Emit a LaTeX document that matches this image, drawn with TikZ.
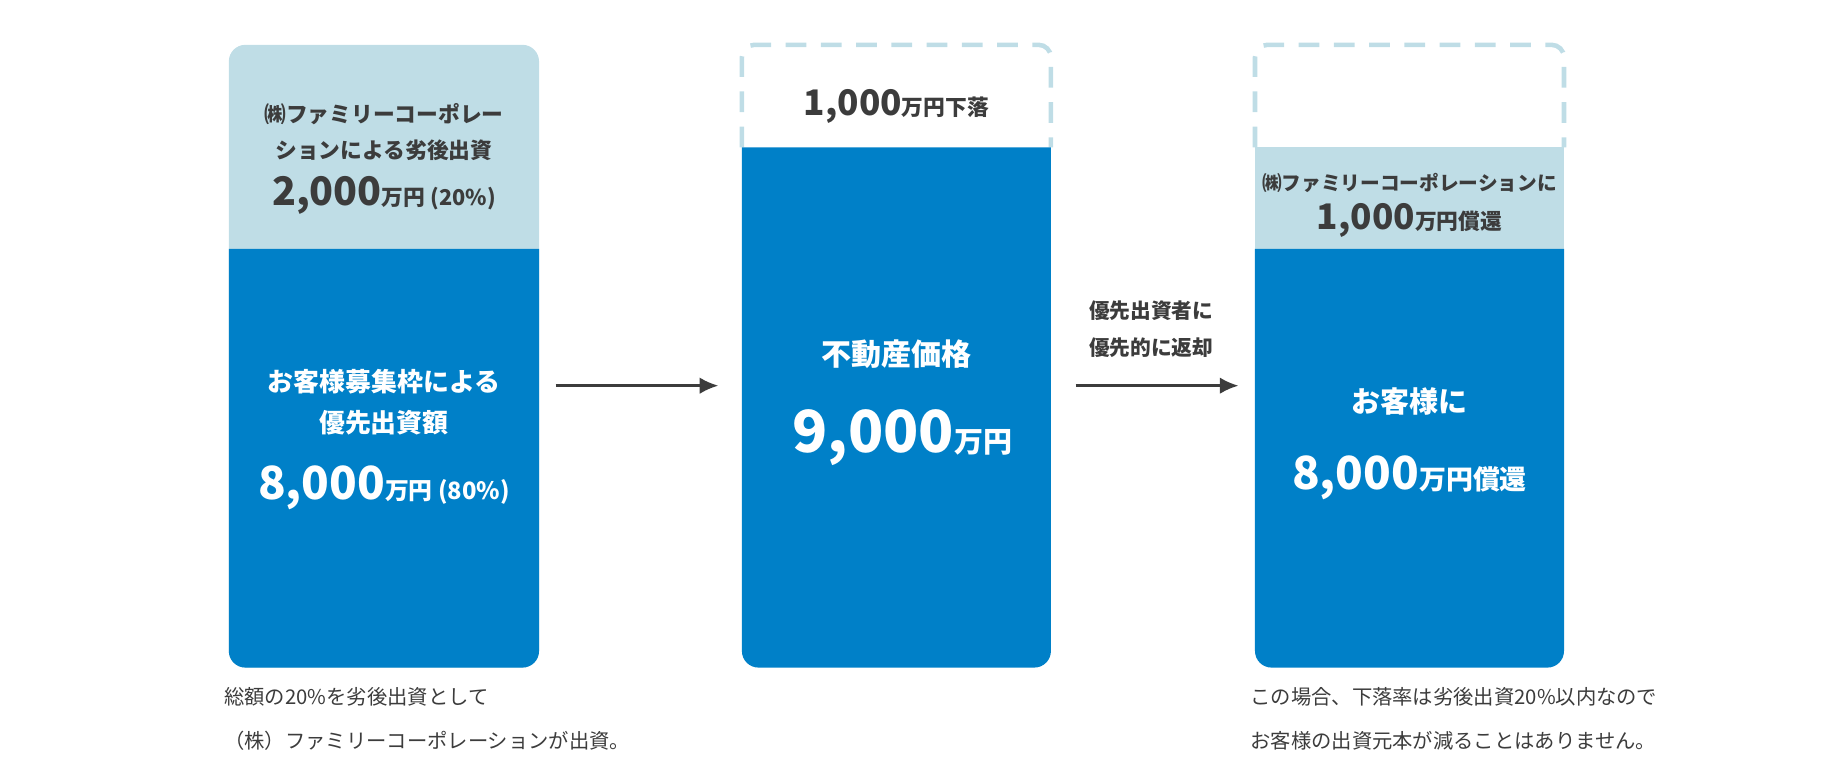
\documentclass[tikz,border=0pt]{standalone}
\usepackage{fontspec}
\setmainfont{Noto Sans CJK JP}
\usetikzlibrary{arrows.meta}
\begin{document}
\begin{tikzpicture}[x=0.02cm,y=-0.02cm,
  dtxt/.style={text=mydark,align=center},
  wtxt/.style={text=white,align=center},
  arr/.style={draw=mydark,line width=1.2pt,-{Latex[length=9pt,width=8pt]}},
  dashbox/.style={draw=mylight,line width=2.2pt,dash pattern=on 10pt off 7pt,rounded corners=6}]
\definecolor{myblue}{HTML}{0080C8}
\definecolor{mylight}{HTML}{BFDDE6}
\definecolor{mydark}{HTML}{3C3C3C}
\useasboundingbox (0,0) rectangle (1560,651);
% left
\fill[mylight,rounded corners=8] (194,38) rectangle (457,566);
\fill[myblue,rounded corners=8] (194,211) [sharp corners]-- (457,211) [rounded corners=8]-- (457,566) -- (194,566) [sharp corners]-- cycle;
\node[dtxt,font=\fontsize{10.5}{17}\selectfont\bfseries] (l1) at (325.5,112) {㈱ファミリーコーポレー\\ションによる劣後出資};
\node[dtxt] (l2) at (325.5,166) {\fontsize{19}{20}\selectfont\bfseries 2,000\fontsize{10.5}{12}\selectfont 万円 (20\%)};
\node[wtxt,font=\fontsize{12.5}{20}\selectfont\bfseries] (l3) at (325.5,341) {お客様募集枠による\\優先出資額};
\node[wtxt] (l4) at (325.5,414) {\fontsize{22}{24}\selectfont\bfseries 8,000\fontsize{11.5}{12}\selectfont 万円 (80\%)};
\node[dtxt,anchor=north west,align=left,font=\fontsize{9.8}{21}\selectfont] (ln) at (184,577) {総額の20\%を劣後出資として\\（株）ファミリーコーポレーションが出資。};
% middle
\draw[dashbox] (629,125) -- (629,38) -- (891,38) -- (891,125);
\fill[myblue,rounded corners=8] (629,125) [sharp corners]-- (891,125) [rounded corners=8]-- (891,566) -- (629,566) [sharp corners]-- cycle;
\node[dtxt] (m1) at (760,90) {\fontsize{17}{20}\selectfont\bfseries 1,000\fontsize{10.5}{12}\selectfont 万円下落};
\node[wtxt,font=\fontsize{14.5}{20}\selectfont\bfseries] (m2) at (760,300) {不動産価格};
\node[wtxt] (m3) at (765,371) {\fontsize{28}{30}\selectfont\bfseries 9,000\fontsize{14}{16}\selectfont 万円};
% right
\draw[dashbox] (1064,125) -- (1064,38) -- (1326,38) -- (1326,125);
\fill[mylight] (1064,125) rectangle (1326,212);
\fill[myblue,rounded corners=8] (1064,211) [sharp corners]-- (1326,211) [rounded corners=8]-- (1326,566) -- (1064,566) [sharp corners]-- cycle;
\node[dtxt,font=\fontsize{9.5}{12}\selectfont\bfseries] (r1) at (1195,155) {㈱ファミリーコーポレーションに};
\node[dtxt] (r2) at (1195,187) {\fontsize{17}{20}\selectfont\bfseries 1,000\fontsize{10.5}{12}\selectfont 万円償還};
\node[wtxt,font=\fontsize{14}{20}\selectfont\bfseries] (r3) at (1195,340) {お客様に};
\node[wtxt] (r4) at (1195,405) {\fontsize{22}{24}\selectfont\bfseries 8,000\fontsize{13}{14}\selectfont 万円償還};
\node[dtxt,anchor=north west,align=left,font=\fontsize{9.8}{21}\selectfont] (rn) at (1054,577) {この場合、下落率は劣後出資20\%以内なので\\お客様の出資元本が減ることはありません。};
% arrows
\coordinate (a1s) at (471,327); \coordinate (a1e) at (609,327);
\coordinate (a2s) at (912,327); \coordinate (a2e) at (1050,327);
\draw[arr] (a1s) -- (a1e);
\draw[arr] (a2s) -- (a2e);
\node[dtxt,font=\fontsize{10}{18}\selectfont\bfseries] (al) at (976,279) {優先出資者に\\優先的に返却};
\end{tikzpicture}
\end{document}
